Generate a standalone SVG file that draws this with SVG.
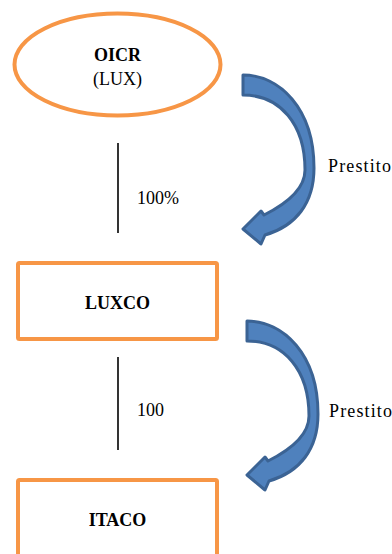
<svg xmlns="http://www.w3.org/2000/svg" width="392" height="554" viewBox="0 0 392 554">
<defs>
<style>
.node{fill:#fff;stroke:#F79646;stroke-width:4}
.name{font-family:"Liberation Serif",serif;font-size:18px;font-weight:bold;text-anchor:middle;fill:#000}
.lbl{font-family:"Liberation Serif",serif;font-size:18px;fill:#000}
.link{stroke:#000;stroke-width:1.6;fill:none}
.arr{fill:#4F81BD;stroke:#3B6394;stroke-width:3;stroke-linejoin:round}
</style>
<path id="curved" d="M243,75 C279,75 314,108 314,168 C314,203 296,226 265,235 L261,244 L243,229 L261,211 L264,215 C286,204 305,190 305,170 C305,124 280,95 243,95 Z"/>
</defs>
<rect width="392" height="554" fill="#fff"/>
<g id="connectors">
<line class="link" x1="118" y1="143" x2="118" y2="233"/>
<text class="lbl" x="137" y="204">100%</text>
<line class="link" x1="118" y1="357" x2="118" y2="450"/>
<text class="lbl" x="137" y="416">100</text>
<use href="#curved" class="arr"/>
<text class="lbl" x="328" y="172" textLength="63">Prestito</text>
<use href="#curved" class="arr" transform="translate(4,246)"/>
<text class="lbl" x="329" y="417" textLength="63">Prestito</text>
</g>
<g id="oicr">
<ellipse class="node" cx="117.5" cy="64.5" rx="103" ry="51"/>
<text class="name" x="117.5" y="61">OICR</text>
<text class="lbl" x="117.5" y="85" text-anchor="middle">(LUX)</text>
</g>
<g id="luxco">
<rect class="node" x="18" y="263" width="199" height="76" rx="1.5"/>
<text class="name" x="117.5" y="309">LUXCO</text>
</g>
<g id="itaco">
<rect class="node" x="18" y="480" width="199" height="100" rx="1.5"/>
<text class="name" x="117.5" y="526">ITACO</text>
</g>
</svg>
